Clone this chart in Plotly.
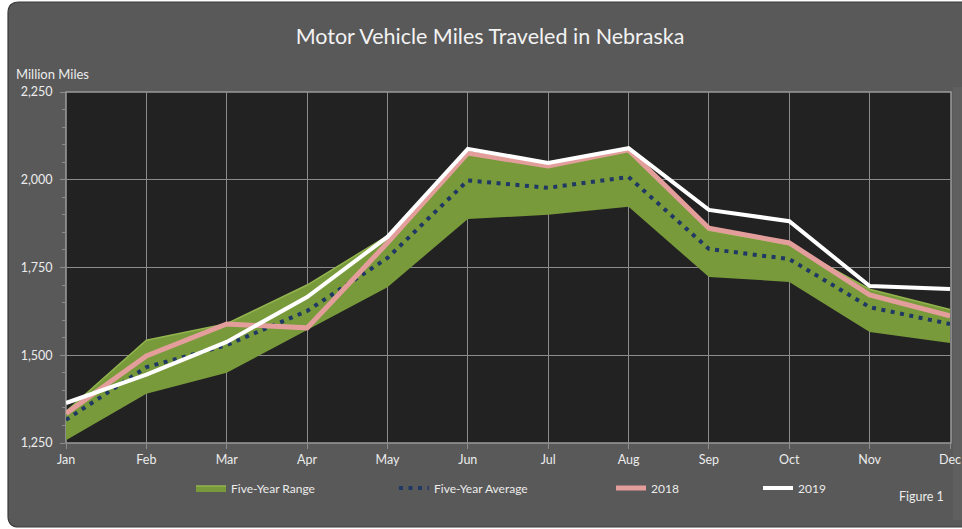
import plotly.graph_objects as go

months = ["Jan", "Feb", "Mar", "Apr", "May", "Jun", "Jul", "Aug", "Sep", "Oct", "Nov", "Dec"]
range_low = [1258, 1390, 1450, 1572, 1694, 1888, 1900, 1923, 1723, 1709, 1566, 1535]
range_high = [1340, 1543, 1590, 1700, 1840, 2072, 2037, 2082, 1856, 1815, 1688, 1630]
avg_5yr = [1316, 1466, 1529, 1626, 1777, 1998, 1977, 2008, 1803, 1774, 1637, 1589]
y2018 = [1334, 1498, 1589, 1578, 1820, 2076, 2039, 2085, 1862, 1820, 1672, 1612]
y2019 = [1364, 1445, 1538, 1666, 1837, 2088, 2048, 2090, 1914, 1882, 1697, 1689]
y_ticks = [1250, 1500, 1750, 2000, 2250]

W, H = 962, 529
L, R, T, B = 66, 12, 92, 86
PW, PH = W - L - R, H - T - B


def px(x):
    return (x - L) / PW


def py(y):
    return (H - B - y) / PH


FONT = "Lato"
TXT = "#ececec"

fig = go.Figure()

fig.add_trace(go.Scatter(x=months, y=range_low, mode="lines", line=dict(width=0, color="#5f7a2c"),
                         showlegend=False, hoverinfo="skip"))
fig.add_trace(go.Scatter(x=months, y=range_high, mode="lines", fill="tonexty", fillcolor="#789a3a",
                         line=dict(width=1.5, color="#93b44e"), name="Five-Year Range", legend="legend"))
fig.add_trace(go.Scatter(x=months, y=avg_5yr, mode="lines", name="Five-Year Average",
                         line=dict(color="#1f3864", width=4, dash="4px,5.5px"), legend="legend2"))
fig.add_trace(go.Scatter(x=months, y=y2018, mode="lines", name="2018",
                         line=dict(color="#e39e9c", width=5), legend="legend3"))
fig.add_trace(go.Scatter(x=months, y=y2019, mode="lines", name="2019",
                         line=dict(color="#ffffff", width=4), legend="legend4"))

# rounded chart background box
x0, x1, y0, y1, r = px(8), px(980), py(2), py(527), 11
rx, ry = r / PW, r / PH
path = (f"M {x0+rx},{y0} L {x1-rx},{y0} Q {x1},{y0} {x1},{y0-ry} L {x1},{y1+ry} "
        f"Q {x1},{y1} {x1-rx},{y1} L {x0+rx},{y1} Q {x0},{y1} {x0},{y1+ry} "
        f"L {x0},{y0-ry} Q {x0},{y0} {x0+rx},{y0} Z")

legend_common = dict(orientation="h", yanchor="middle", xanchor="left", y=py(488),
                     bgcolor="rgba(0,0,0,0)", font=dict(family=FONT, size=12, color=TXT),
                     itemwidth=30)

fig.update_layout(
    width=W, height=H, autosize=False,
    margin=dict(l=L, r=R, t=T, b=B, pad=0, autoexpand=False),
    paper_bgcolor="#ffffff",
    plot_bgcolor="#222222",
    font=dict(family=FONT, color=TXT),
    title=dict(text="Motor Vehicle Miles Traveled in Nebraska", x=490 / W, xanchor="center",
               y=1 - 36 / H, yanchor="middle", font=dict(family=FONT, size=21.5, color="#f2f2f2")),
    shapes=[
        dict(type="path", xref="paper", yref="paper", path=path, fillcolor="#595959",
             line=dict(color="#3a3a3a", width=1.2), layer="below"),
        dict(type="rect", xref="paper", yref="paper", x0=px(953), x1=px(970), y0=py(87), y1=py(520),
             fillcolor="#5f5f5f", line=dict(width=0), layer="below"),
        dict(type="rect", xref="paper", yref="paper", x0=0, x1=px(951), y0=0, y1=1,
             fillcolor="#222222", line=dict(color="#9a9a9a", width=1.5), layer="below"),
    ],
    xaxis=dict(range=[0, 11], showgrid=True, gridcolor="#8c8c8c", gridwidth=1, automargin=False,
               ticks="outside", ticklen=5, tickcolor="#8c8c8c", zeroline=False,
               tickfont=dict(family=FONT, size=12.5, color=TXT), showline=False, fixedrange=True),
    yaxis=dict(range=[1250, 2250], tickvals=y_ticks, tickformat=",", showgrid=True, automargin=False,
               gridcolor="#8c8c8c", gridwidth=1, ticks="outside", ticklen=5, tickcolor="#8c8c8c",
               zeroline=False, tickfont=dict(family=FONT, size=12.5, color=TXT), ticklabelstandoff=5,
               minor=dict(dtick=50, ticks="outside", ticklen=3, tickcolor="#8c8c8c", showgrid=False),
               showline=True, linecolor="#8c8c8c", linewidth=1, fixedrange=True),
    legend=dict(legend_common, x=px(191)),
    legend2=dict(legend_common, x=px(394)),
    legend3=dict(legend_common, x=px(611)),
    legend4=dict(legend_common, x=px(758)),
    annotations=[
        dict(text="Million Miles", xref="paper", yref="paper", x=px(14), y=py(74), xanchor="left",
             yanchor="middle", showarrow=False, font=dict(family=FONT, size=13, color=TXT)),
        dict(text="Figure 1", xref="paper", yref="paper", x=px(946), y=py(497), xanchor="right",
             yanchor="middle", showarrow=False, font=dict(family=FONT, size=12.5, color=TXT)),
    ],
)

post = ("document.documentElement.style.margin='0';document.documentElement.style.overflow='hidden';"
        "document.body.style.margin='0';document.body.style.overflow='hidden';")
fig.write_html("out.html", post_script=post,
               config={"displayModeBar": False, "responsive": False})
